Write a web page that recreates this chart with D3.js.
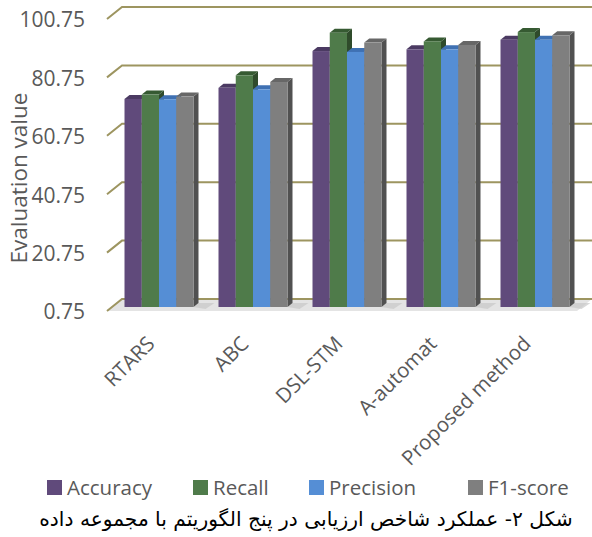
<!DOCTYPE html>
<html>
<head>
<meta charset="utf-8">
<script src="https://cdn.jsdelivr.net/npm/d3@7"></script>
<style>
  html, body { margin: 0; padding: 0; background: #ffffff; }
  svg { display: block; }
</style>
</head>
<body>
<svg id="chart" width="592" height="537"></svg>
<script>
// Algorithms compared
const categories = ["RTARS", "ABC", "DSL-STM", "A-automat", "Proposed method"];
// Metric names (legend order)
const seriesNames = ["Accuracy", "Recall", "Precision", "F1-score"];
// Metric values per algorithm
const accuracy  = [72.0, 75.8, 88.4, 89.0, 92.3];
const recall    = [73.5, 80.1, 94.7, 91.7, 94.9];
const precision = [71.9, 75.3, 88.1, 89.0, 92.3];
const f1score   = [72.8, 77.8, 91.3, 90.5, 93.8];
// Value axis ticks
const yTicks = [0.75, 20.75, 40.75, 60.75, 80.75, 100.75];

const seriesValues = [accuracy, recall, precision, f1score];
const frontColors = ["#604a7b", "#4f7b4a", "#558ed5", "#7f7f7f"];
const topColors   = ["#4b3a62", "#365a32", "#3f71b3", "#676767"];
const sideColors  = ["#3f3153", "#2f4b2b", "#35649f", "#515151"];

const svg = d3.select("#chart");
const textColor = "#595959";
const gridColor = "#9d9560";
const latinFont = "'Open Sans', sans-serif";

// Oblique depth: the back wall sits 15px right and 12px up from the floor front edge;
// bar front faces sit 4px behind the floor front edge, with 4px of their own depth.
const depthX = 15, depthY = 12;
const barOffY = 4, barDepthX = 5, barDepthY = 4;

// Value scale on the front plane of the floor
const yFront = d3.scaleLinear().domain([0.75, 100.75]).range([311, 19]);
const yBar = v => yFront(v) - barOffY;
const yBack = v => yFront(v) - depthY;

// Category and series scales (bar front plane)
const x0 = d3.scaleBand().domain(categories).range([112, 582])
  .paddingInner(0.266).paddingOuter(0.133);
const x1 = d3.scaleBand().domain(seriesNames).range([0, x0.bandwidth()]);

const floorLeft = 107, wallRight = 592;

// Floor
const gFloor = svg.append("g");
const floorPts = [
  [floorLeft, yFront(0.75)],
  [floorLeft + depthX, yBack(0.75)],
  [wallRight, yBack(0.75)],
  [wallRight - depthX, yFront(0.75)]
];
gFloor.append("polygon")
  .attr("points", floorPts.map(p => p.join(",")).join(" "))
  .attr("fill", "#e4e4e4");

// Gridlines on the back wall, with oblique lead-ins on the left side wall
const gGrid = svg.append("g");
yTicks.forEach(t => {
  gGrid.append("polyline")
    .attr("points", [
      [floorLeft, yFront(t)],
      [floorLeft + depthX, yBack(t)],
      [wallRight, yBack(t)]
    ].map(p => p.join(",")).join(" "))
    .attr("fill", "none")
    .attr("stroke", gridColor)
    .attr("stroke-width", 2);
});

// Soft shadows cast on the floor to the right of each group
const gShadow = svg.append("g");
categories.forEach(c => {
  const xr = x0(c) + x0.bandwidth();
  gShadow.append("polygon")
    .attr("points", [
      [xr, yBar(0.75)],
      [xr + barDepthX, yBar(0.75) - barDepthY],
      [xr + barDepthX + 16, yBar(0.75) - barDepthY],
      [xr + 12, yBar(0.75) + 2]
    ].map(p => p.join(",")).join(" "))
    .attr("fill", "#c8c8c8")
    .attr("opacity", 0.7);
});

// Bars: drawn left to right so each bar covers its left neighbour's side face
const gBars = svg.append("g");
categories.forEach((c, ci) => {
  seriesNames.forEach((s, si) => {
    const v = seriesValues[si][ci];
    const xl = x0(c) + x1(s);
    const xr = xl + x1.bandwidth();
    const yt = yBar(v);
    const yb = yBar(0.75);
    const g = gBars.append("g");
    // side face
    g.append("polygon")
      .attr("points", [[xr, yt], [xr + barDepthX, yt - barDepthY], [xr + barDepthX, yb - barDepthY], [xr, yb]]
        .map(p => p.join(",")).join(" "))
      .attr("fill", sideColors[si]);
    // top face
    g.append("polygon")
      .attr("points", [[xl, yt], [xl + barDepthX, yt - barDepthY], [xr + barDepthX, yt - barDepthY], [xr, yt]]
        .map(p => p.join(",")).join(" "))
      .attr("fill", topColors[si]);
    // front face
    g.append("rect")
      .attr("x", xl).attr("y", yt)
      .attr("width", x1.bandwidth()).attr("height", yb - yt)
      .attr("fill", frontColors[si]);
  });
});

// Value axis labels
svg.append("g").selectAll("text").data(yTicks).join("text")
  .attr("x", 85)
  .attr("y", d => yFront(d) + 1)
  .attr("dy", "0.35em")
  .attr("text-anchor", "end")
  .attr("font-family", latinFont)
  .attr("font-size", 21)
  .attr("fill", textColor)
  .text(d => d.toFixed(2));

// Value axis title
svg.append("text")
  .attr("transform", "translate(27,178) rotate(-90)")
  .attr("text-anchor", "middle")
  .attr("font-family", latinFont)
  .attr("font-size", 22.5)
  .attr("fill", textColor)
  .text("Evaluation value");

// Category labels, slanted
svg.append("g").selectAll("text").data(categories).join("text")
  .attr("transform", d => `translate(${x0(d) + x0.bandwidth() / 2 - 3},345) rotate(-45)`)
  .attr("text-anchor", "end")
  .attr("font-family", latinFont)
  .attr("font-size", 20.5)
  .attr("fill", textColor)
  .text(d => d);

// Legend
const legendX = [47, 193, 309, 468];
const gLegend = svg.append("g");
seriesNames.forEach((s, i) => {
  gLegend.append("rect")
    .attr("x", legendX[i]).attr("y", 480)
    .attr("width", 15).attr("height", 15)
    .attr("fill", frontColors[i]);
  gLegend.append("text")
    .attr("x", legendX[i] + 20).attr("y", 487.5)
    .attr("dy", "0.35em")
    .attr("font-family", latinFont)
    .attr("font-size", 20.5)
    .attr("fill", textColor)
    .text(s);
});

// Figure caption (Persian)
svg.append("text")
  .attr("x", 306).attr("y", 526)
  .attr("text-anchor", "middle")
  .attr("direction", "rtl")
  .attr("font-family", "'DejaVu Sans', sans-serif")
  .attr("font-size", 20.2)
  .attr("fill", "#000000")
  .text("شکل ۲- عملکرد شاخص ارزیابی در پنج الگوریتم با مجموعه داده");
</script>
</body>
</html>
